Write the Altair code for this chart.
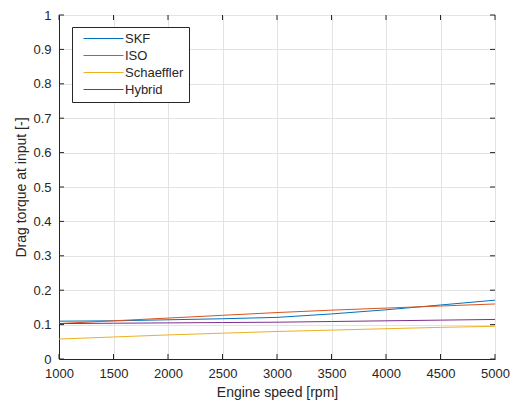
import altair as alt
import pandas as pd

rpm = [1000, 1500, 2000, 2500, 3000, 3500, 4000, 4500, 5000]
skf = [0.110, 0.111, 0.114, 0.117, 0.121, 0.131, 0.143, 0.157, 0.171]
iso = [0.103, 0.111, 0.119, 0.127, 0.135, 0.142, 0.148, 0.154, 0.160]
schaeffler = [0.058, 0.064, 0.070, 0.075, 0.080, 0.084, 0.088, 0.092, 0.095]
hybrid = [0.103, 0.104, 0.105, 0.106, 0.107, 0.109, 0.111, 0.113, 0.115]

series_names = ["SKF", "ISO", "Schaeffler", "Hybrid"]
series_colors = ["#0072BD", "#D95319", "#EDB120", "#7E2F8E"]
x_ticks = [1000, 1500, 2000, 2500, 3000, 3500, 4000, 4500, 5000]
y_ticks = [0, 0.1, 0.2, 0.3, 0.4, 0.5, 0.6, 0.7, 0.8, 0.9, 1]

rows = []
for name, vals in zip(series_names, [skf, iso, schaeffler, hybrid]):
    for x, v in zip(rpm, vals):
        rows.append({"rpm": x, "torque": v, "series": name})
df = pd.DataFrame(rows)

W, H = 436, 344
FONT = "Liberation Sans"
TXT = "#262626"

xscale = alt.Scale(domain=[1000, 5000], nice=False, zero=False)
yscale = alt.Scale(domain=[0, 1], nice=False)

xaxis = alt.Axis(title="Engine speed [rpm]", values=x_ticks, format="d",
                 grid=True, gridColor="#e3e3e3", ticks=False,
                 domainColor=TXT, labelColor=TXT, titleColor=TXT,
                 labelFont=FONT, titleFont=FONT, labelFontSize=13,
                 titleFontSize=14, titleFontWeight="normal",
                 labelFlush=False, labelOverlap=False,
                 labelPadding=8, titlePadding=5)
yaxis = alt.Axis(title="Drag torque at input [-]", values=y_ticks,
                 grid=True, gridColor="#e3e3e3", ticks=False,
                 domainColor=TXT, labelColor=TXT, titleColor=TXT,
                 labelFont=FONT, titleFont=FONT, labelFontSize=13,
                 titleFontSize=14, titleFontWeight="normal",
                 labelFlush=False, labelOverlap=False,
                 labelPadding=8, titlePadding=4,
                 labelExpr="datum.value == 0 || datum.value == 1 ? format(datum.value, 'd') : format(datum.value, '.1f')")

lines = alt.Chart(df).mark_line(strokeWidth=1, clip=True).encode(
    x=alt.X("rpm:Q", scale=xscale, axis=xaxis),
    y=alt.Y("torque:Q", scale=yscale, axis=yaxis),
    color=alt.Color("series:N", sort=series_names,
                    scale=alt.Scale(domain=series_names, range=series_colors),
                    legend=alt.Legend(title=None, orient="none", legendX=13, legendY=12,
                                      symbolType="M0,0H8", symbolSize=100,
                                      symbolStrokeWidth=1,
                                      labelFont=FONT, labelFontSize=13,
                                      labelColor=TXT, labelOffset=35,
                                      strokeColor=TXT, fillColor="white",
                                      padding=5, rowPadding=3,
                                      cornerRadius=0)),
)

xt = pd.DataFrame({"rpm": x_ticks})
yt = pd.DataFrame({"torque": y_ticks})
xb = alt.Chart(xt).mark_rule(strokeWidth=1).encode(
    x=alt.X("rpm:Q", scale=xscale, axis=xaxis), y=alt.value(H), y2=alt.value(H - 5),
    color=alt.value(TXT))
xtop = alt.Chart(xt).mark_rule(strokeWidth=1).encode(
    x=alt.X("rpm:Q", scale=xscale, axis=xaxis), y=alt.value(0), y2=alt.value(5),
    color=alt.value(TXT))
yl = alt.Chart(yt).mark_rule(strokeWidth=1).encode(
    y=alt.Y("torque:Q", scale=yscale, axis=yaxis), x=alt.value(0), x2=alt.value(5),
    color=alt.value(TXT))
yr = alt.Chart(yt).mark_rule(strokeWidth=1).encode(
    y=alt.Y("torque:Q", scale=yscale, axis=yaxis), x=alt.value(W), x2=alt.value(W - 5),
    color=alt.value(TXT))

chart = alt.layer(lines, xb, xtop, yl, yr).properties(
    width=W, height=H,
    autosize=alt.AutoSizeParams(type="none"),
    padding={"left": 51, "top": 7, "right": 15, "bottom": 42},
).configure_view(stroke=TXT, strokeWidth=1).configure(background="white")

chart.save("out.html", embed_options={"renderer": "svg", "actions": False})
